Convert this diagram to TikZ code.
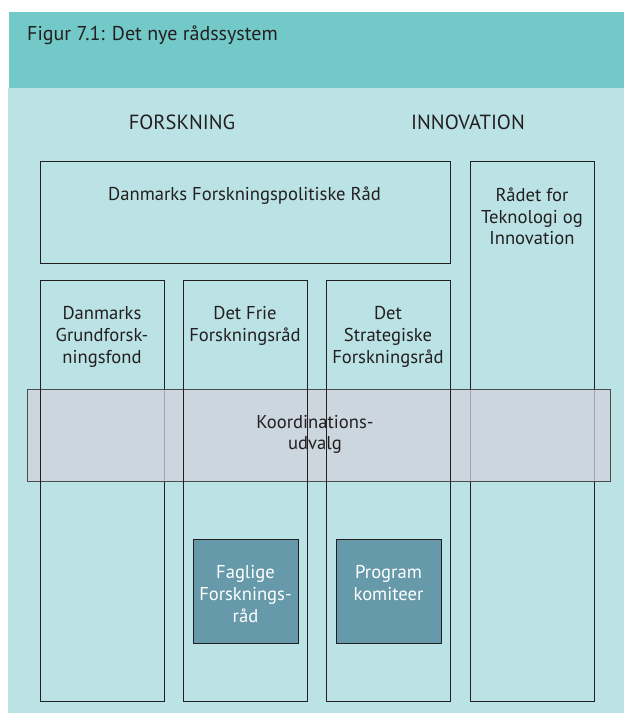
\documentclass[tikz,border=0pt]{standalone}
\usepackage{fontspec}
\setmainfont{PT Sans}
\definecolor{headbg}{HTML}{73C9C7}
\definecolor{lightbg}{HTML}{BBE3E5}
\definecolor{bandbg}{HTML}{D3D2DE}
\definecolor{darkbox}{HTML}{6699AA}
\definecolor{ink}{HTML}{231F20}
\begin{document}
\begin{tikzpicture}[x=1pt,y=-1pt,
  box/.style={draw=ink, line width=1pt, rectangle, anchor=north west, inner sep=0pt},
  filledbox/.style={box, fill=darkbox},
  band/.style={draw=black!70, line width=1pt, fill=bandbg, fill opacity=0.75, rectangle, anchor=north west, inner sep=0pt},
  txt/.style={text=ink, font=\fontsize{18.6}{21.7}\selectfont, align=center, inner sep=0pt},
  wtxt/.style={txt, text=white},
  head/.style={text=ink, font=\fontsize{20.5}{24}\selectfont, inner sep=0pt},
  title/.style={text=ink, font=\fontsize{20}{24}\selectfont, anchor=west, inner sep=0pt}]
\useasboundingbox (0,0) rectangle (624,713);
\fill[white] (0,0) rectangle (624,713);
\fill[lightbg] (8,88) rectangle (624,713);
\fill[headbg] (9,12) rectangle (624,88);
\node[title] (ttl) at (27,35) {Figur 7.1: Det nye rådssystem};
\node[head] (forsk) at (182,122) {FORSKNING};
\node[head] (innov) at (468,122) {INNOVATION};
% boxes
\node[box, minimum width=410, minimum height=102] (dfr) at (40,161) {};
\node[box, minimum width=124, minimum height=540] (rti) at (470,161) {};
\node[box, minimum width=124, minimum height=421] (dgf) at (40,280) {};
\node[box, minimum width=124, minimum height=421] (dff) at (183,280) {};
\node[box, minimum width=124, minimum height=421] (dsf) at (326,280) {};
\node[filledbox, minimum width=105, minimum height=104] (fag) at (193,539) {};
\node[filledbox, minimum width=105, minimum height=104] (prog) at (336,539) {};
% coordination band
\node[band, minimum width=583, minimum height=92] (koord) at (27,389) {};
% lines that show on top of the band
\draw[ink, line width=1pt] (dgf.north west) -- (dgf.south west);
\node[box, minimum width=124, minimum height=421] (dffb) at (183,280) {};
\node[box, minimum width=124, minimum height=421] (dsfb) at (326,280) {};
% texts
\node[txt] (tdfr) at (244.5,196) {Danmarks Forskningspolitiske Råd};
\node[txt] (trti) at (532,216.5) {Rådet for\\Teknologi og\\Innovation};
\node[txt] (tdgf) at (102,337) {Danmarks\\Grundforsk-\\ningsfond};
\node[txt] (tdff) at (245,326) {Det Frie\\Forskningsråd};
\node[txt] (tdsf) at (388,337) {Det\\Strategiske\\Forskningsråd};
\node[txt] (tkoord) at (315,434.5) {Koordinations-\\udvalg};
\node[wtxt] (tfag) at (245.5,594) {Faglige\\Forsknings-\\råd};
\node[wtxt] (tprog) at (388.5,583) {Program\\komiteer};
\end{tikzpicture}
\end{document}
